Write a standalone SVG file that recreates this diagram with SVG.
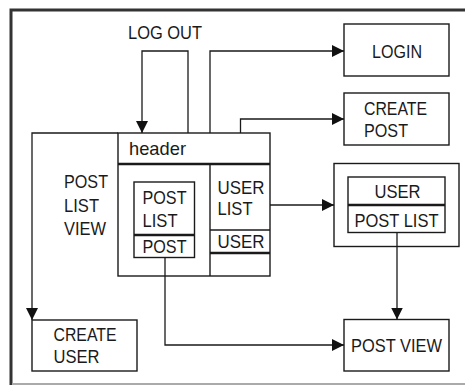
<svg xmlns="http://www.w3.org/2000/svg" width="465" height="385" viewBox="0 0 465 385">
<style>
.box{fill:#fff;stroke:#1a1a1a;stroke-width:1.4}
.thick{stroke:#1a1a1a;stroke-width:2.6;fill:none}
.thin{stroke:#1a1a1a;stroke-width:1.4;fill:none}
.conn path{fill:none;stroke:#1a1a1a;stroke-width:1.3}
text{font-family:"Liberation Sans",Arial,sans-serif;font-size:19px;fill:#1a1a1a}
.c{text-anchor:middle}
</style>
<defs>
<marker id="arr" markerUnits="userSpaceOnUse" markerWidth="12" markerHeight="12" refX="12" refY="6" orient="auto">
<path d="M0,0 L12,6 L0,12 z" fill="#111"/>
</marker>
</defs>
<rect x="0" y="0" width="465" height="385" fill="#fff"/>
<g id="frame">
<path d="M11,385 V10 H465" fill="none" stroke="#333" stroke-width="3"/>
<path d="M12,384 H465" fill="none" stroke="#aaa" stroke-width="2"/>
</g>
<g id="logout-label"><text x="128" y="39" textLength="74" lengthAdjust="spacingAndGlyphs">LOG OUT</text></g>
<g id="login"><rect class="box" x="344" y="24" width="105" height="52"/><text x="372" y="57.5" textLength="50" lengthAdjust="spacingAndGlyphs">LOGIN</text></g>
<g id="create-post"><rect class="box" x="344" y="93" width="105" height="52"/><text x="364" y="115" textLength="63" lengthAdjust="spacingAndGlyphs">CREATE</text><text x="364" y="137" textLength="44" lengthAdjust="spacingAndGlyphs">POST</text></g>
<g id="post-list-view">
<rect class="box" x="118" y="133" width="152" height="143"/>
<line class="thick" x1="118" y1="164" x2="270" y2="164"/>
<line class="thin" x1="210" y1="164" x2="210" y2="276"/>
<text x="129" y="155" textLength="57" lengthAdjust="spacingAndGlyphs">header</text>
<text x="64" y="188" textLength="44" lengthAdjust="spacingAndGlyphs">POST</text>
<text x="64" y="211.5" textLength="35" lengthAdjust="spacingAndGlyphs">LIST</text>
<text x="64" y="235" textLength="42" lengthAdjust="spacingAndGlyphs">VIEW</text>
<g id="post-list-box">
<rect class="box" x="134" y="182" width="60.5" height="75.5"/>
<line class="thick" x1="134" y1="235" x2="194.5" y2="235"/>
<text x="142.5" y="204" textLength="44" lengthAdjust="spacingAndGlyphs">POST</text>
<text x="142.5" y="227" textLength="35" lengthAdjust="spacingAndGlyphs">LIST</text>
<text x="142.5" y="253" textLength="44" lengthAdjust="spacingAndGlyphs">POST</text>
</g>
<g id="user-list-box">
<text x="217.5" y="194" textLength="47" lengthAdjust="spacingAndGlyphs">USER</text>
<text x="217.5" y="215" textLength="35" lengthAdjust="spacingAndGlyphs">LIST</text>
<line class="thin" x1="210" y1="230" x2="270" y2="230"/>
<text x="217.5" y="248" textLength="47" lengthAdjust="spacingAndGlyphs">USER</text>
<line class="thick" x1="210" y1="253" x2="270" y2="253"/>
</g>
</g>
<g id="user-view">
<rect class="box" x="334" y="163.5" width="125" height="83"/>
<rect class="box" x="348" y="177" width="97" height="55.5"/>
<line class="thick" x1="348" y1="205" x2="445" y2="205"/>
<text x="374.5" y="198" textLength="46" lengthAdjust="spacingAndGlyphs">USER</text>
<text x="354.5" y="226.5" textLength="84" lengthAdjust="spacingAndGlyphs">POST LIST</text>
</g>
<g id="create-user"><rect class="box" x="32" y="320" width="105" height="51"/><text x="53.5" y="340.5" textLength="63" lengthAdjust="spacingAndGlyphs">CREATE</text><text x="53.5" y="363" textLength="46" lengthAdjust="spacingAndGlyphs">USER</text></g>
<g id="post-view"><rect class="box" x="344" y="319.5" width="105" height="51.5"/><text x="351" y="351.5" textLength="91" lengthAdjust="spacingAndGlyphs">POST VIEW</text></g>
<g class="conn" id="connectors">
<path d="M188,133 V51 H142 V133" marker-end="url(#arr)"/>
<path d="M210,133 V51 H344" marker-end="url(#arr)"/>
<path d="M240.5,133 V119 H344" marker-end="url(#arr)"/>
<path d="M118,133 H32 V320" marker-end="url(#arr)"/>
<path d="M270,205 H334" marker-end="url(#arr)"/>
<path d="M397,232.5 V319.5" marker-end="url(#arr)"/>
<path d="M165,257.5 V345 H344" marker-end="url(#arr)"/>
</g>
</svg>
